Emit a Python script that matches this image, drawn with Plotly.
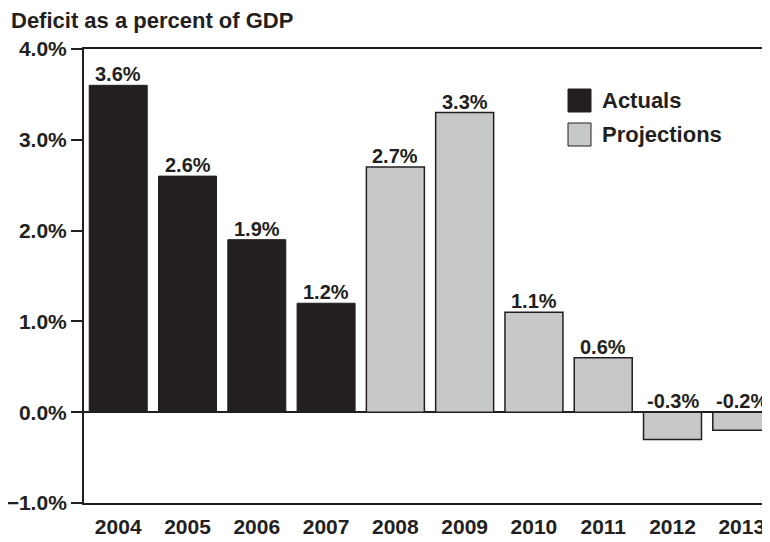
import plotly.graph_objects as go

years = ["2004", "2005", "2006", "2007", "2008", "2009", "2010", "2011", "2012", "2013"]
actuals = [3.6, 2.6, 1.9, 1.2, None, None, None, None, None, None]
projections = [None, None, None, None, 2.7, 3.3, 1.1, 0.6, -0.3, -0.2]
values = [3.6, 2.6, 1.9, 1.2, 2.7, 3.3, 1.1, 0.6, -0.3, -0.2]
title_text = "Deficit as a percent of GDP"

DARK = "#231f20"
GRAY = "#c7c8ca"
FONT = "Liberation Sans"

# page body has an 8px margin; figure sized/positioned to compensate
OFF = 8
W, H = 770 - OFF, 542 - OFF
ML, MR, MT = 84 - OFF, 0, 49 - OFF
MB = H - (503 - OFF)
PW, PH = W - ML - MR, H - MT - MB

def px_x(p):  # screen px -> paper
    return (p - OFF - ML) / PW

def px_y(p):
    return (H - MB - (p - OFF)) / PH

fig = go.Figure()
fig.add_trace(go.Bar(x=years, y=actuals, name="Actuals",
                     marker=dict(color=DARK, line=dict(color=DARK, width=1)),
                     showlegend=False))
fig.add_trace(go.Bar(x=years, y=projections, name="Projections",
                     marker=dict(color=GRAY, line=dict(color=DARK, width=1.5)),
                     showlegend=False))

annotations = []
for i, v in enumerate(values):
    annotations.append(dict(x=i, y=max(v, 0), xref="x", yref="y",
                            text=f"{v:.1f}%", showarrow=False,
                            yanchor="bottom", yshift=-2,
                            font=dict(family=FONT, size=20, color=DARK, weight="bold")))

# custom legend
legend_items = [("Actuals", DARK, 89), ("Projections", GRAY, 123)]
shapes = []
for label, col, top in legend_items:
    shapes.append(dict(type="rect", xref="paper", yref="paper",
                       x0=px_x(568), x1=px_x(591), y0=px_y(top + 23), y1=px_y(top),
                       fillcolor=col, line=dict(color=DARK, width=1)))
    annotations.append(dict(x=px_x(600), y=px_y(top + 11.5), xref="paper", yref="paper",
                            text=label, showarrow=False, xanchor="left", yanchor="middle",
                            font=dict(family=FONT, size=22, color=DARK, weight="bold")))

fig.update_layout(
    width=W, height=H,
    margin=dict(l=ML, r=MR, t=MT, b=MB, autoexpand=False),
    paper_bgcolor="white", plot_bgcolor="white",
    barmode="overlay", bargap=0.163,
    title=dict(text=title_text, xref="container", yref="container",
               x=3 / W, xanchor="left", y=1 - 12.5 / H, yanchor="middle",
               font=dict(family=FONT, size=22, color=DARK, weight="bold")),
    annotations=annotations, shapes=shapes,
    font=dict(family=FONT, color=DARK),
)
fig.update_xaxes(type="category", range=[-0.494, 9.407], automargin=False,
                 showline=True, linecolor=DARK, linewidth=2, mirror=True,
                 showgrid=False, ticks="", ticklabelstandoff=4,
                 tickfont=dict(family=FONT, size=21, color=DARK, weight="bold"))
fig.update_yaxes(range=[-1, 4], dtick=1, tick0=0, tickformat=".1f", ticksuffix="%",
                 automargin=False,
                 showline=True, linecolor=DARK, linewidth=2,
                 showgrid=False, zeroline=True, zerolinecolor=DARK, zerolinewidth=2,
                 ticks="outside", ticklen=11, tickwidth=2, tickcolor=DARK,
                 tickfont=dict(family=FONT, size=21, color=DARK, weight="bold"))

fig.write_html("out.html")
